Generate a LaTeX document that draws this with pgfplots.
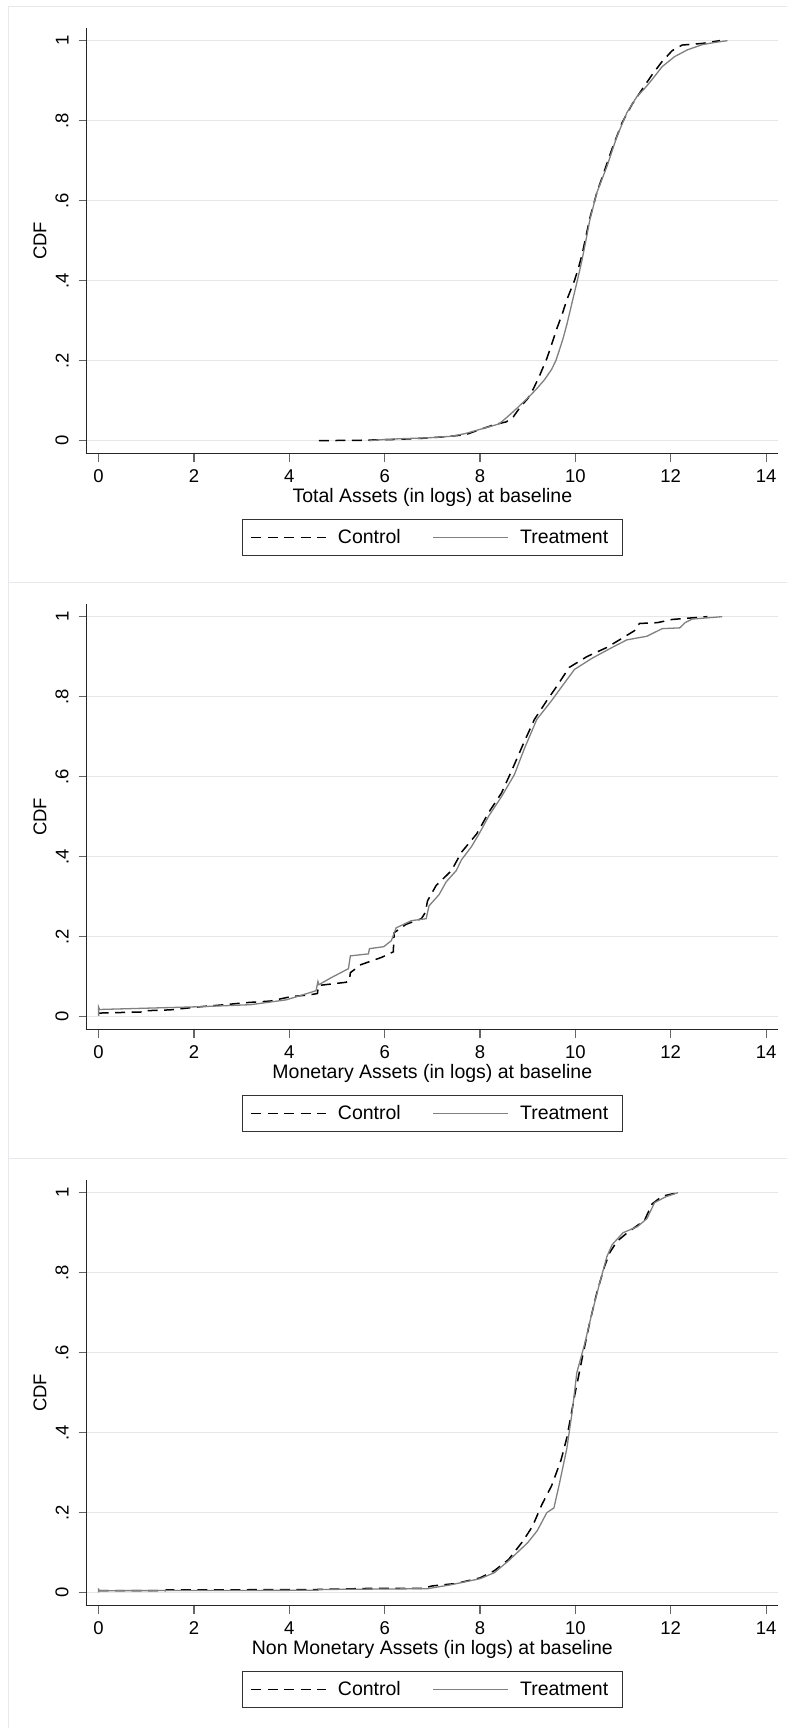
\documentclass[border=0pt]{standalone}
\usepackage{fontspec}
\setmainfont{Liberation Sans}
\usepackage{pgfplots}
\pgfplotsset{compat=1.18}
\definecolor{treat}{RGB}{128,128,128}
\definecolor{gridc}{RGB}{230,230,230}
\definecolor{frame}{RGB}{232,232,236}
\newcommand\ticfont{\fontsize{18.5bp}{22bp}\selectfont}
\newcommand\labfont{\fontsize{19.5bp}{23bp}\selectfont}
\newcommand\cdffont{\fontsize{18.5bp}{22bp}\selectfont}
\pgfplotsset{
  cdfpanel/.style={
    width=691.3bp, height=425.7bp, scale only axis,
    xmin=-0.25, xmax=14.25, ymin=-0.0325, ymax=1.0317,
    axis x line*=bottom, axis y line*=left,
    axis line style={line width=1.1bp, color=black!85},
    xtick={0,2,4,6,8,10,12,14}, xticklabels={0,2,4,6,8,10,12,14},
    ytick={0,0.2,0.4,0.6,0.8,1}, yticklabels={0,.2,.4,.6,.8,1},
    tick align=outside, major tick length=8bp,
    tick style={line width=1.1bp, color=black!60},
    ymajorgrids, major grid style={line width=1.3bp, color=gridc},
    xticklabel style={font=\ticfont, inner sep=0pt, anchor=north},
    yticklabel style={font=\ticfont, inner sep=0pt, rotate=90, anchor=south},
    xticklabel shift=7.6bp, yticklabel shift=10bp,
    /pgf/number format/assume math mode=true,
    ylabel={CDF},
    ylabel style={font=\cdffont, at={(axis description cs:-0.06755,0.5)}, anchor=center, inner sep=0pt},
    xlabel style={font=\labfont, at={(axis description cs:0.5,-0.1151)}, anchor=base, inner sep=0pt},
    legend style={at={(axis description cs:0.5,-0.1541)}, anchor=north,
      legend columns=2, draw=black!80, line width=0.9bp, font=\labfont,
      inner xsep=7.7bp, inner ysep=10bp, nodes={inner sep=0pt},
      /tikz/every odd column/.append style={column sep=11bp},
      /tikz/every even column/.append style={column sep=32bp}},
    legend cell align=left,
    legend image code/.code={\draw[##1] (0bp,0bp) -- (75bp,0bp);},
  },
  ctrl/.style={black, line width=1.5bp, dash pattern=on 10bp off 6.5bp},
  trt/.style={treat, line width=1.3bp},
}
\begin{document}
\begin{tikzpicture}[x=1bp,y=1bp]
\path[use as bounding box] (0,0) rectangle (787,1728);
% panel frames
\foreach \i in {0,1,2}{
  \draw[frame, line width=1.2bp] (8.3,{1728-6.7-576*\i}) -- (787,{1728-6.7-576*\i});
  \draw[frame, line width=1.2bp] (8.3,{1728-6.7-576*\i}) -- (8.3,{1728-6.7-576*\i-576});
}
% ---------------- Panel 1 ----------------
\begin{axis}[cdfpanel, at={(86.7bp,1274.3bp)}, anchor=south west,
  xlabel={Total Assets (in logs) at baseline}]
\addplot[ctrl] coordinates {
(4.62,0.000) (5.5,0.001) (6.2,0.003) (6.8,0.006) (7.3,0.010) (7.7,0.015)
(8.0,0.028) (8.3,0.040) (8.55,0.047) (8.7,0.060) (8.85,0.085) (9.0,0.105)
(9.12,0.130) (9.24,0.160) (9.4,0.205) (9.5,0.240) (9.61,0.280) (9.72,0.315)
(9.82,0.352) (9.98,0.400) (10.06,0.430) (10.14,0.465) (10.22,0.510) (10.3,0.555)
(10.45,0.620) (10.61,0.675) (10.77,0.730) (10.98,0.795) (11.19,0.841) (11.45,0.887)
(11.61,0.915) (11.82,0.948) (12.03,0.975) (12.24,0.989) (12.66,0.993) (13.03,1.000)
};
\addlegendentry{Control}
\addplot[trt] coordinates {
(5.68,0) (6.0,0.003) (6.35,0.005) (6.9,0.007) (7.4,0.011) (7.7,0.018)
(7.93,0.026) (8.2,0.035) (8.4,0.042) (8.56,0.058) (8.72,0.075) (8.87,0.092)
(9.03,0.110) (9.19,0.130) (9.35,0.152) (9.5,0.178) (9.59,0.200) (9.66,0.225)
(9.74,0.255) (9.82,0.290) (9.9,0.330) (9.98,0.370) (10.06,0.410) (10.14,0.452)
(10.22,0.500) (10.3,0.550) (10.45,0.620) (10.66,0.685) (10.87,0.760) (11.08,0.820)
(11.29,0.860) (11.45,0.880) (11.61,0.903) (11.82,0.935) (12.08,0.960) (12.35,0.977)
(12.66,0.990) (12.9,0.995) (13.19,1.000)
};
\addlegendentry{Treatment\hspace*{6bp}}
\end{axis}
% ---------------- Panel 2 ----------------
\begin{axis}[cdfpanel, at={(86.7bp,698.3bp)}, anchor=south west,
  xlabel={Monetary Assets (in logs) at baseline}]
\addplot[ctrl] coordinates {
(0,0.009) (0.98,0.012) (1.0,0.015) (1.5,0.017) (2.14,0.025) (2.66,0.030)
(3.08,0.035) (3.6,0.039) (4.03,0.050) (4.45,0.055) (4.59,0.058) (4.61,0.078)
(5.19,0.086) (5.26,0.090) (5.28,0.110) (5.5,0.130) (5.93,0.148) (6.18,0.162)
(6.2,0.210) (6.45,0.231) (6.77,0.245) (6.85,0.260) (6.9,0.290) (7.08,0.328)
(7.4,0.365) (7.61,0.411) (7.93,0.457) (8.19,0.512) (8.45,0.559) (8.66,0.614)
(8.93,0.688) (9.14,0.743) (9.4,0.790) (9.61,0.826) (9.87,0.873) (10.24,0.900)
(10.66,0.923) (10.98,0.946) (11.24,0.965) (11.3,0.978) (11.35,0.983) (11.72,0.985)
(12.03,0.993) (12.77,1.000)
};
\addlegendentry{Control}
\addplot[trt] coordinates {
(0,0.002) (0,0.024) (0.02,0.018) (2.14,0.025) (3.19,0.030) (3.93,0.042)
(4.24,0.053) (4.56,0.065) (4.6,0.088) (4.62,0.080) (4.87,0.097) (5.24,0.120)
(5.28,0.152) (5.66,0.157) (5.68,0.170) (5.98,0.175) (6.14,0.190) (6.24,0.222)
(6.56,0.240) (6.87,0.245) (6.93,0.277) (7.14,0.305) (7.29,0.337) (7.5,0.365)
(7.61,0.392) (7.82,0.425) (7.98,0.457) (8.19,0.503) (8.45,0.550) (8.72,0.605)
(8.93,0.670) (9.19,0.743) (9.5,0.790) (9.72,0.826) (9.98,0.868) (10.35,0.896)
(10.77,0.923) (11.08,0.942) (11.5,0.951) (11.82,0.970) (12.19,0.972) (12.3,0.985)
(12.45,0.994) (13.08,1.000)
};
\addlegendentry{Treatment\hspace*{6bp}}
\end{axis}
% ---------------- Panel 3 ----------------
\begin{axis}[cdfpanel, at={(86.7bp,122.3bp)}, anchor=south west,
  xlabel={Non Monetary Assets (in logs) at baseline}]
\addplot[ctrl] coordinates {
(0,0.005) (1.4,0.005) (1.42,0.007) (2.3,0.007) (4.6,0.008) (5.8,0.011)
(6.8,0.011) (7.0,0.017) (7.5,0.023) (8.0,0.037) (8.3,0.055) (8.6,0.083)
(8.9,0.129) (9.1,0.166) (9.3,0.221) (9.5,0.267) (9.7,0.332) (9.82,0.387)
(9.98,0.490) (10.14,0.585) (10.3,0.675) (10.45,0.750) (10.61,0.815) (10.72,0.850)
(10.87,0.878) (11.08,0.899) (11.29,0.917) (11.45,0.931) (11.61,0.972) (11.82,0.991)
(12.03,0.997) (12.19,1.000)
};
\addlegendentry{Control}
\addplot[trt] coordinates {
(0,0.001) (0,0.008) (0.02,0.005) (4.6,0.006) (4.62,0.008) (6.9,0.010)
(7.4,0.020) (8.0,0.035) (8.3,0.050) (8.6,0.080) (9.0,0.125) (9.2,0.155)
(9.4,0.200) (9.55,0.212) (9.66,0.270) (9.82,0.360) (9.93,0.450) (10.03,0.550)
(10.19,0.620) (10.35,0.700) (10.5,0.770) (10.66,0.840) (10.77,0.870) (11.0,0.900)
(11.3,0.915) (11.5,0.935) (11.66,0.975) (11.9,0.990) (12.15,1.000)
};
\addlegendentry{Treatment\hspace*{6bp}}
\end{axis}
\end{tikzpicture}
\end{document}
